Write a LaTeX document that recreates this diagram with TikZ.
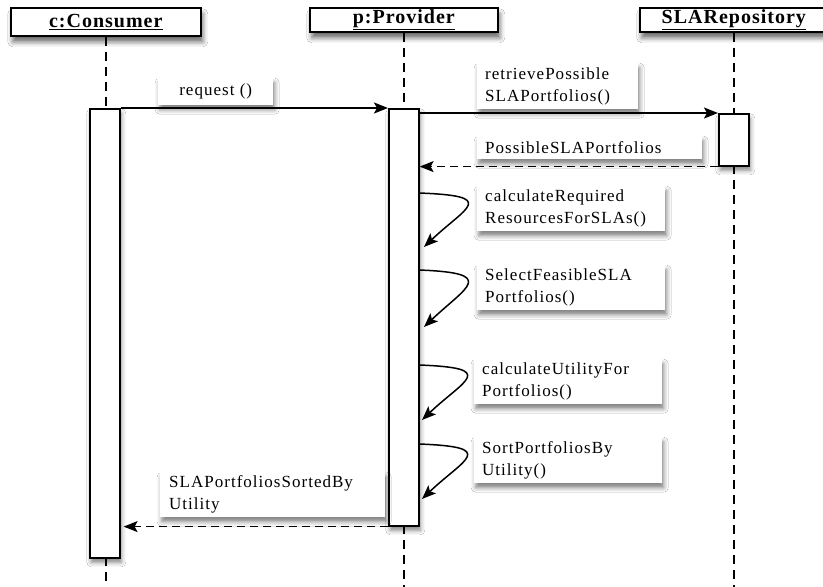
\documentclass[tikz,border=0pt]{standalone}
\usepackage{fontspec}
\setmainfont{Liberation Serif}
\newfontfamily\labelfont[LetterSpace=6]{Liberation Serif}
\newfontfamily\headfont[LetterSpace=5]{Liberation Serif}
\usetikzlibrary{arrows.meta,shadows.blur}
\begin{document}
\begin{tikzpicture}[x=1pt,y=-1pt,
  soft/.style={blur shadow={shadow xshift=1.5pt,shadow yshift=-4.5pt,shadow blur radius=4.5pt,shadow opacity=50}},
  heavy/.style={blur shadow={shadow xshift=2pt,shadow yshift=-6pt,shadow blur radius=5pt,shadow opacity=60}},
  header/.style={draw,line width=1.6pt,fill=white,heavy,inner sep=0pt,anchor=north west,
    font=\fontsize{20}{22}\headfont\bfseries},
  actbar/.style={draw,line width=1.6pt,fill=white,soft,inner sep=0pt,anchor=north west,minimum width=30pt},
  lbl/.style={fill=white,soft,inner ysep=0pt,inner xsep=8pt,anchor=north west,align=left,
    font=\fontsize{17}{22}\labelfont},
  lifeline/.style={line width=1.4pt,dash pattern=on 9pt off 6pt},
  msg/.style={line width=1.5pt,-{Stealth[length=14pt,width=11pt,inset=3pt]}},
  reply/.style={msg,dash pattern=on 8pt off 5pt},
]
\path[use as bounding box,fill=white] (0,0) rectangle (823,587);
\coordinate (bottom) at (0,587);

% object headers
\node[header,minimum width=190pt,minimum height=28pt] (cons) at (10,7) {\underline{c:Consumer}};
\node[header,minimum width=188pt,minimum height=24pt] (prov) at (309,7) {\underline{p:Provider}};
\node[header,minimum width=188pt,minimum height=24pt] (repo) at (639,7) {\underline{SLARepository}};

% lifelines
\draw[lifeline] (cons.south) -- (cons.south |- 0,108);
\draw[lifeline] (cons.south |- 0,557) -- (cons.south |- bottom);
\draw[lifeline] (prov.south) -- (prov.south |- 0,108);
\draw[lifeline] (prov.south |- 0,525) -- (prov.south |- bottom);
\draw[lifeline] (repo.south) -- (repo.south |- 0,113);
\draw[lifeline] (repo.south |- 0,165) -- (repo.south |- bottom);

% activation bars
\node[actbar,minimum height=449pt] (cbar) at (89,108) {};
\node[actbar,minimum height=417pt] (pbar) at (388,108) {};
\node[actbar,minimum height=52pt] (rbar) at (718,113) {};

% message labels
\node[lbl,minimum width=115pt,minimum height=27pt,align=center,inner xsep=0pt] (lreq) at (158,78) {request ()};
\node[lbl,text width=145pt,minimum height=46pt] (lretr) at (477,63) {retrievePossible\\SLAPortfolios()};
\node[lbl,text width=209pt,minimum height=23pt] (lposs) at (477,136) {PossibleSLAPortfolios};
\node[lbl,text width=172pt,minimum height=45pt] (lcalc) at (477,186) {calculateRequired\\ResourcesForSLAs()};
\node[lbl,text width=172pt,minimum height=45pt] (lsel) at (477,265) {SelectFeasibleSLA\\Portfolios()};
\node[lbl,text width=172pt,minimum height=45pt] (lutil) at (474,359) {calculateUtilityFor\\Portfolios()};
\node[lbl,text width=172pt,minimum height=46pt] (lsort) at (474,437) {SortPortfoliosBy\\Utility()};
\node[lbl,text width=207pt,minimum height=45pt,inner xsep=9pt] (lsorted) at (160,472) {SLAPortfoliosSortedBy\\Utility};

% messages between objects
\draw[msg] (cbar.north east) -- (pbar.north west);
\draw[msg] (pbar.east |- rbar.north west) -- (rbar.north west);
\draw[reply] (rbar.south west) -- (pbar.east |- rbar.south west);
\draw[reply,shorten >=3pt] (pbar.south west) -- (cbar.east |- pbar.south west);

% self calls on the provider
\coordinate (s1) at (419,193); \coordinate (e1) at (424,247);
\coordinate (s2) at (419,270); \coordinate (e2) at (424,327);
\coordinate (s3) at (419,365); \coordinate (e3) at (422,420);
\coordinate (s4) at (419,444); \coordinate (e4) at (422,499);
\foreach \s/\e in {s1/e1,s2/e2,s3/e3,s4/e4}
  \draw[msg] (\s) .. controls ($(\s)+(80,3)$) and ($(\e)+(42,-40)$) .. (\e);
\end{tikzpicture}
\end{document}
